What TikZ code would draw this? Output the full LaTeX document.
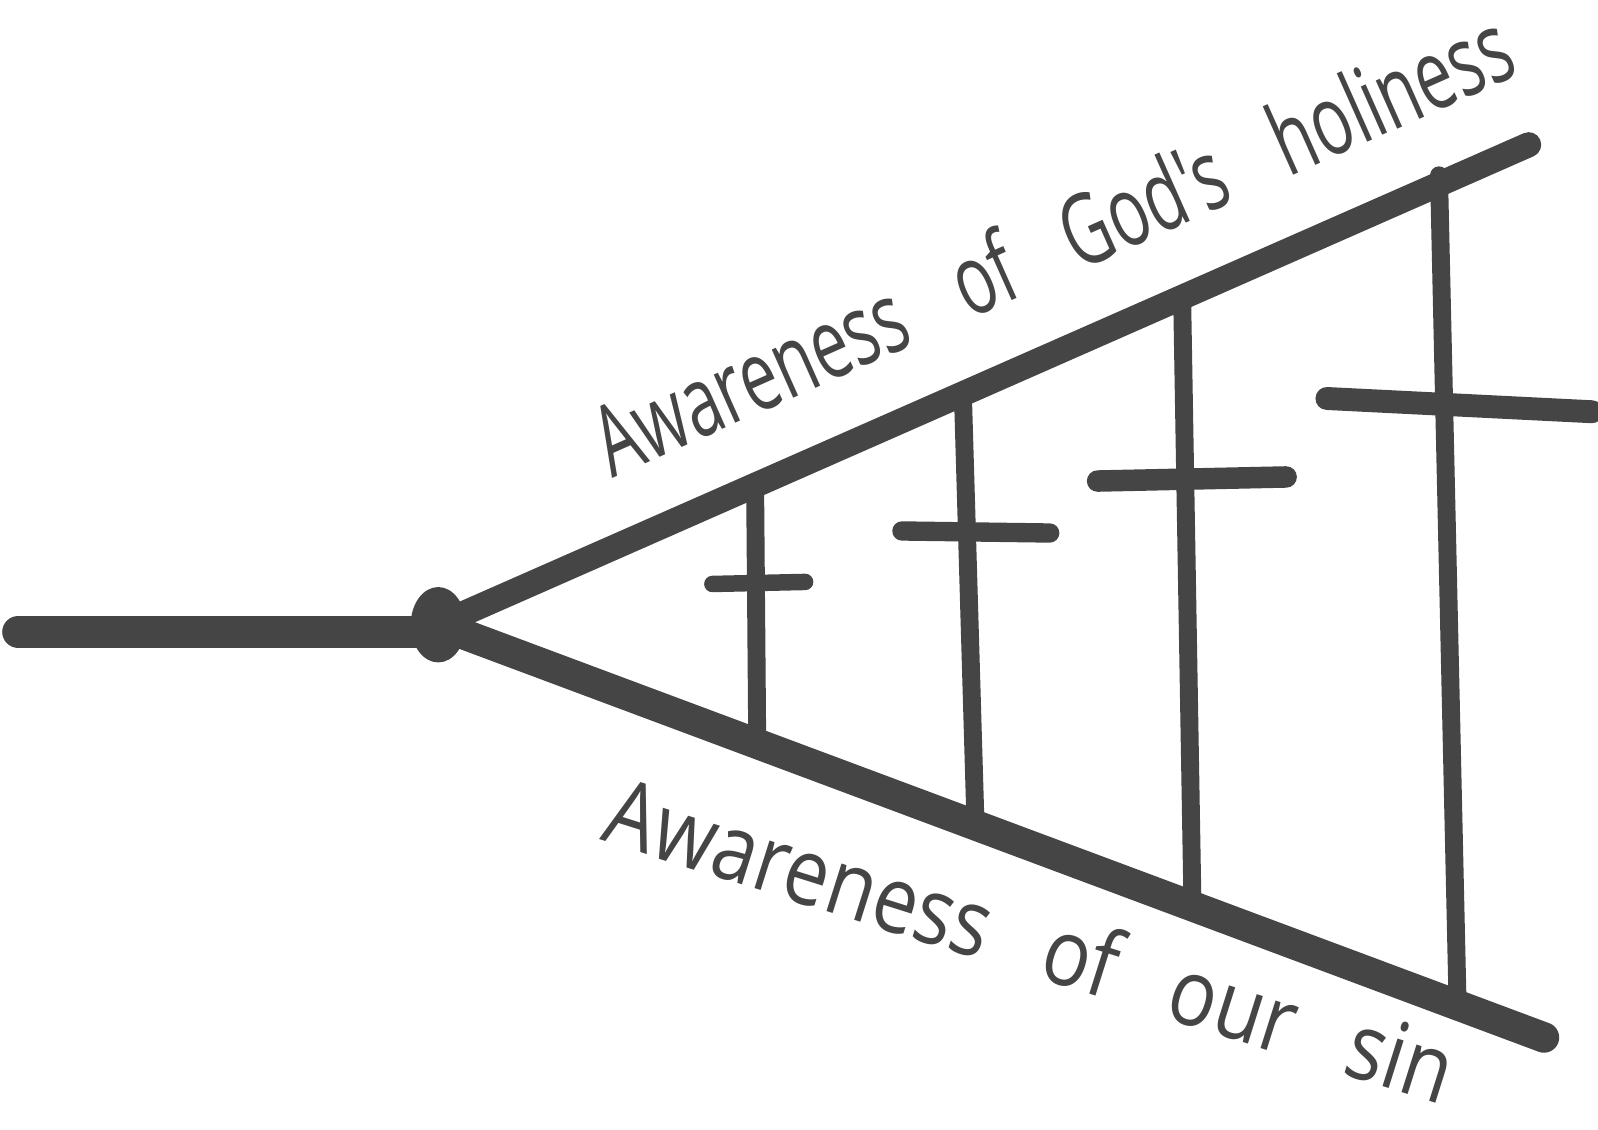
\documentclass[tikz,border=0pt]{standalone}
\usepackage{fontspec}
\usepackage{graphicx}
\usepackage{xcolor}
\usepackage{tikz}
\usetikzlibrary{calc}
\definecolor{ink}{HTML}{454545}
\newfontfamily\handfont{Open Sans}

\begin{document}
\begin{tikzpicture}[x=0.01cm,y=0.01cm,
    stroke/.style={draw=ink,line cap=round,line join=round},
    post/.style={stroke,line width=5pt}]
            \useasboundingbox (0,0) rectangle (1568,-1108);
            \coordinate (l) at (18,-620);
            \coordinate (m) at (430,-620);
            \coordinate (o) at (430,-613);
            \coordinate (u) at (1500,-142);
            \coordinate (d) at (1515,-1018);
            \draw[stroke,line width=9pt] (l) -- (m);
            \draw[stroke,line width=7pt] (o) -- (u);
            \draw[stroke,line width=8.5pt] (o) -- (d);
            \fill[ink] (o) ellipse (27 and 37);
            % crosses between the two lines
            \foreach \xt/\yt/\xb/\yb/\xl/\yl/\xr/\yr/\w [count=\i] in
              {741/484/743/726/699/573/790/571/4.6pt,
               945/393/957/802/885/521/1030/523/5.4pt,
               1160/295/1170/882/1077/472/1262/468/6pt,
               1412/172/1430/975/1302/391/1562/404/6.4pt}{
              \coordinate (top\i) at (\xt,-\yt);
              \coordinate (bot\i) at (\xb,-\yb);
              \coordinate (bl\i) at (\xl,-\yl);
              \coordinate (br\i) at (\xr,-\yr);
              \draw[post] (top\i) -- (bot\i);
              \draw[stroke,line width=\w] (bl\i) -- (br\i);
            }
            \node[anchor=base west,rotate=24,text=ink,inner sep=0pt,
              font=\handfont\fontsize{27.5}{30}\selectfont] (hol) at (600,-470)
              {\scalebox{0.67}[1]{\spaceskip=24pt Awareness of God's holiness}};
            \node[anchor=base west,rotate=-17.5,text=ink,inner sep=0pt,
              font=\handfont\fontsize{26}{30}\selectfont] (sin) at (588,-824)
              {\scalebox{0.85}[1]{\spaceskip=19pt Awareness of our sin}};
          \end{tikzpicture}
\end{document}
